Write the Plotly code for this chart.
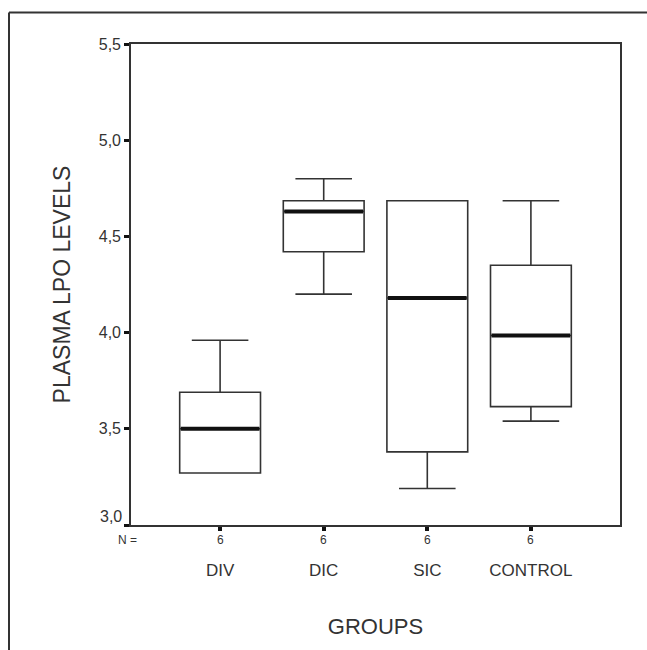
import plotly.graph_objects as go

# ---- data ----
groups = ["DIV", "DIC", "SIC", "CONTROL"]
n_counts = [6, 6, 6, 6]
lower_whisker = [3.27, 4.20, 3.19, 3.54]
q1 = [3.27, 4.42, 3.38, 3.615]
median = [3.50, 4.63, 4.18, 3.985]
q3 = [3.69, 4.685, 4.685, 4.35]
upper_whisker = [3.96, 4.80, 4.685, 4.685]

y_ticks = [3.0, 3.5, 4.0, 4.5, 5.0, 5.5]
y_tick_labels = ["3,0", "3,5", "4,0", "4,5", "5,0", "5,5"]

x_title = "GROUPS"
y_title = "PLASMA LPO LEVELS"
n_label = "N ="

# ---- styling ----
W, H = 647, 650
L, R, T, B = 131, 27, 44, 125
INK = "#333333"
FONT = "Liberation Sans, Arial, sans-serif"
BOX_W = 0.78

positions = list(range(len(groups)))

fig = go.Figure()

fig.add_trace(go.Box(
    x=positions,
    q1=q1, median=median, q3=q3,
    lowerfence=lower_whisker, upperfence=upper_whisker,
    width=BOX_W, whiskerwidth=0.7,
    fillcolor="white",
    line=dict(color=INK, width=1.6),
    boxpoints=False,
    hoverinfo="skip",
    showlegend=False,
))

# thick median bars (SPSS style)
mx, my = [], []
for p, m in zip(positions, median):
    mx += [p - BOX_W / 2 + 0.01, p + BOX_W / 2 - 0.01, None]
    my += [m, m, None]
fig.add_trace(go.Scatter(
    x=mx, y=my, mode="lines",
    line=dict(color="#111111", width=4),
    hoverinfo="skip", showlegend=False,
))

annotations = []
# N counts under each category tick
for p, n in zip(positions, n_counts):
    annotations.append(dict(
        x=p, y=-15 / 481, xref="x", yref="paper",
        text=str(n), showarrow=False,
        font=dict(family=FONT, size=12, color=INK),
        xanchor="center", yanchor="middle",
    ))
annotations.append(dict(
    x=8 / 489, y=-15 / 481, xref="paper", yref="paper",
    text=n_label, showarrow=False,
    font=dict(family=FONT, size=12, color=INK),
    xanchor="right", yanchor="middle",
))
# lowest y tick label is lifted above the N row, as in SPSS output
annotations.append(dict(
    x=0, y=y_ticks[0], xref="paper", yref="y",
    text=y_tick_labels[0], showarrow=False,
    font=dict(family=FONT, size=16, color=INK),
    xanchor="right", yanchor="middle", xshift=-7, yshift=9,
))
shown_tick_labels = [""] + y_tick_labels[1:]

fig.update_layout(
    width=W, height=H,
    margin=dict(l=L, r=R, t=T, b=B, autoexpand=False),
    paper_bgcolor="white", plot_bgcolor="white",
    font=dict(family=FONT, color=INK),
    separators=",.",
    showlegend=False,
    annotations=annotations,
    shapes=[
        dict(type="line", xref="paper", yref="paper",
             x0=(9 - L) / 489, x1=1.2, y0=(525 - 12.5) / 481, y1=(525 - 12.5) / 481,
             line=dict(color=INK, width=2)),
        dict(type="line", xref="paper", yref="paper",
             x0=(9 - L) / 489, x1=(9 - L) / 489, y0=(525 - 12.5) / 481, y1=-0.4,
             line=dict(color=INK, width=2)),
    ],
)

fig.update_xaxes(
    range=[-0.86, 3.86],
    tickmode="array", tickvals=positions, ticktext=groups,
    ticks="outside", ticklen=4, tickwidth=4, tickcolor="#111111",
    ticklabelstandoff=25,
    tickfont=dict(family=FONT, size=17, color=INK),
    showline=True, linecolor=INK, linewidth=1.6, mirror=True,
    showgrid=False, zeroline=False,
    title=dict(text=x_title, font=dict(family=FONT, size=22, color=INK), standoff=39),
)
fig.update_yaxes(
    range=[3.0, 5.5],
    tickmode="array", tickvals=y_ticks, ticktext=shown_tick_labels,
    ticks="outside", ticklen=5, tickwidth=3, tickcolor="#111111",
    tickfont=dict(family=FONT, size=16, color=INK),
    showline=True, linecolor=INK, linewidth=1.6, mirror=True,
    showgrid=False, zeroline=False,
    title=dict(text=y_title, font=dict(family=FONT, size=23, color=INK), standoff=22),
)

fig.write_html("out.html")
